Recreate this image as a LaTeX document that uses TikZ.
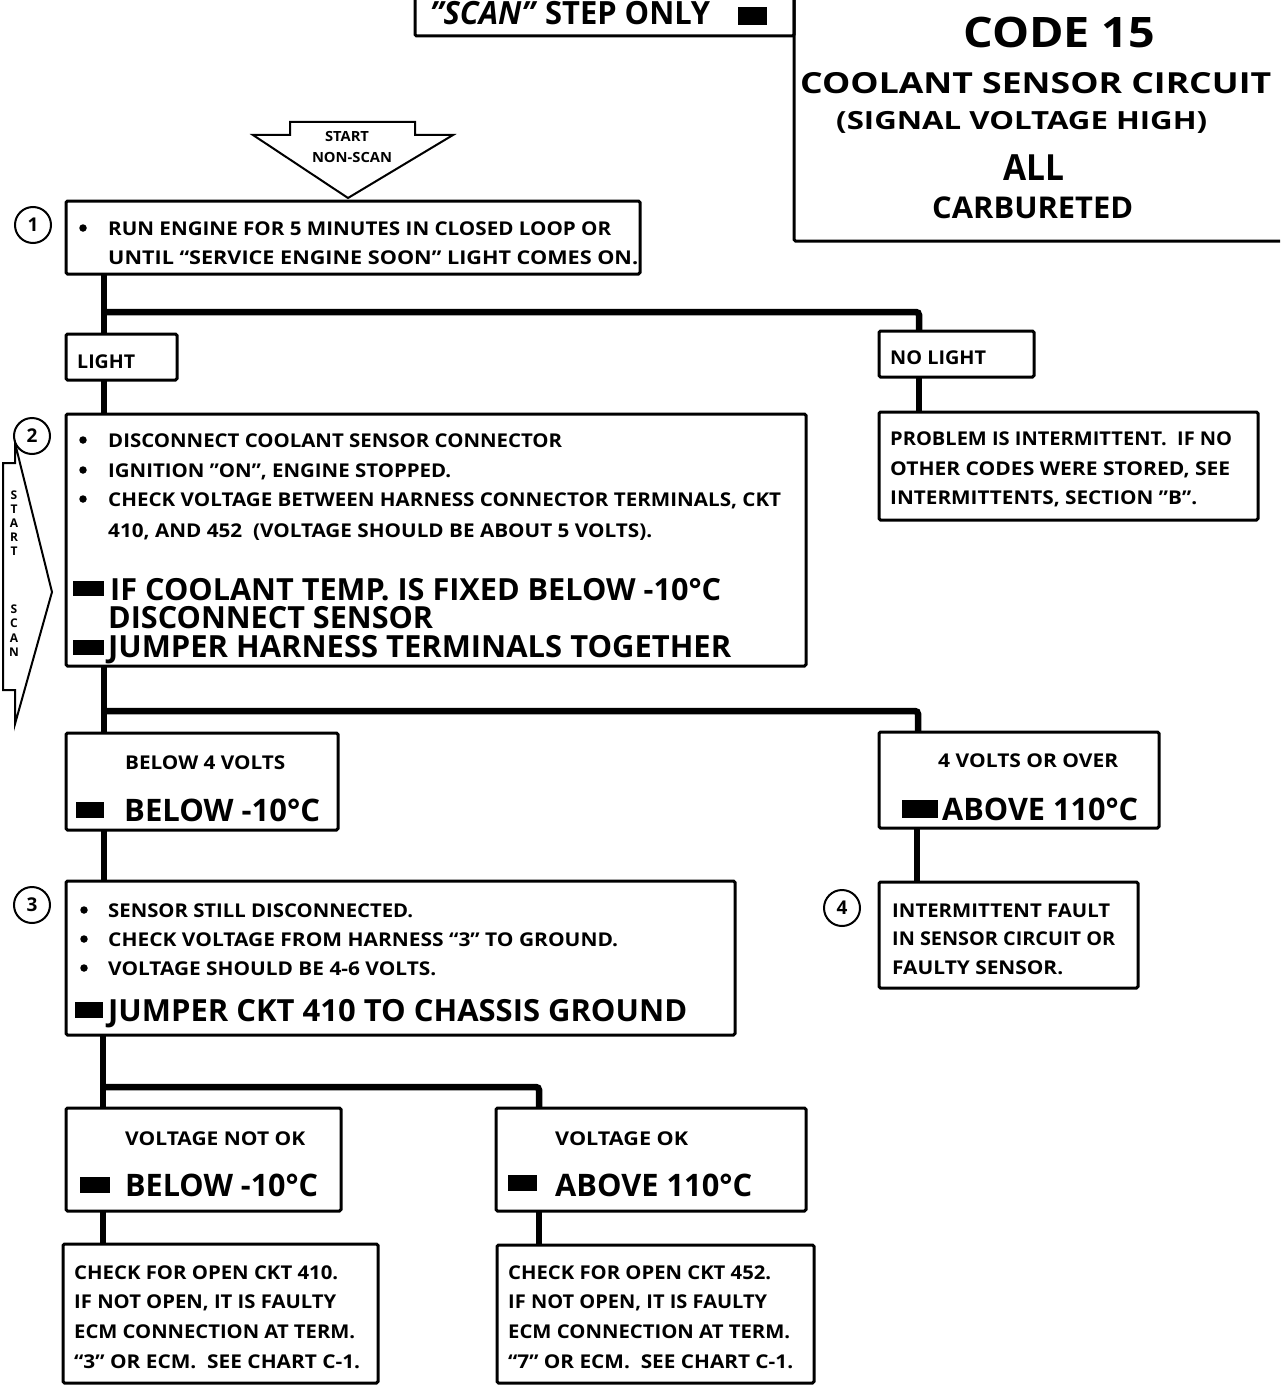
\documentclass[tikz,border=0pt]{standalone}
\usepackage{graphicx}
\usepackage{fontspec}
\setmainfont{Open Sans}
\newsavebox\fitbox
\newlength\fitlen
\newcommand\fitw[2]{\sbox\fitbox{#2}\setlength\fitlen{\wd\fitbox}\pgfmathsetmacro\fitr{#1/\fitlen}\ht\fitbox=\fontcharht\font`X\dp\fitbox=0pt\scalebox{\fitr}[1]{\usebox\fitbox}}
\newcommand\fs[1]{\fontsize{#1}{#1}\selectfont\bfseries}
\tikzset{
  bx/.style={draw, line width=3pt, rounded corners=1.5pt, inner sep=0, outer sep=0, anchor=north west},
  conn/.style={line width=6.5pt, rounded corners=3pt},
  sm/.style={anchor=base west, inner sep=0, font=\fs{19}},
  smc/.style={anchor=base, inner sep=0, font=\fs{14}},
  big/.style={anchor=base west, inner sep=0, font=\fs{30.5}},
  mid/.style={anchor=base west, inner sep=0, font=\fs{31}},
  hd/.style={anchor=base west, inner sep=0},
  vl/.style={inner sep=0, font=\fs{12}},
  blk/.style={fill=black, inner sep=0, outer sep=0, rectangle},
  bul/.style={circle, fill=black, minimum size=7.5pt, inner sep=0},
  num/.style={circle, draw, line width=2pt, minimum size=36pt, inner sep=0, font=\fs{19}},
  arr/.style={draw, line width=2pt, line join=miter}
}
\newcommand\bxat[5]{\node[bx, minimum width=#4pt, minimum height=#5pt] (#1) at (#2,#3) {};}
\newcommand\blkat[5]{\node[blk, minimum width=#4pt, minimum height=#5pt] (#1) at (#2,#3) {};}
\begin{document}
\begin{tikzpicture}[x=1pt,y=-1pt]
\useasboundingbox (0,0) rectangle (1280,1386);
\clip (0,0) rectangle (1280,1386);
% header boxes
\bxat{scanbox}{415}{-30}{379}{66}
\bxat{codebox}{794}{-30}{520}{271}
\node[hd, font=\fs{32}] (scant) at (430,25) {\fitw{280}{\textit{”SCAN”} STEP ONLY}};
\blkat{kscan}{752}{16}{29}{18}
\node[hd, font=\fs{42}] (code) at (963,48) {\fitw{192}{CODE 15}};
\node[hd, font=\fs{29}] (cool) at (800,94) {\fitw{471}{COOLANT SENSOR CIRCUIT}};
\node[hd, font=\fs{25}] (sig) at (836,129) {\fitw{371}{(SIGNAL VOLTAGE HIGH)}};
\node[hd, font=\fs{36}] (all) at (1003,180) {\fitw{61}{ALL}};
\node[hd, font=\fs{30}] (carb) at (932,218) {\fitw{201}{CARBURETED}};
% start non-scan arrow
\draw[arr] (290,122) -- (415,122) -- (415,135) -- (453,135) -- (348,198) -- (253,135) -- (290,135) -- cycle;
\node[smc] (st1) at (347,142) {\fitw{44}{START}};
\node[smc] (st2) at (352,162) {\fitw{80}{NON-SCAN}};
% start scan arrow
\draw[arr] (15,443) -- (15,463) -- (3,463) -- (3,690) -- (15,690) -- (15,724) -- (52,592) -- cycle;
\node[vl] (ss1) at (14,495) {S};
\node[vl] (ss2) at (14,509) {T};
\node[vl] (ss3) at (14,523) {A};
\node[vl] (ss4) at (14,537) {R};
\node[vl] (ss5) at (14,551) {T};
\node[vl] (ss6) at (14,609) {S};
\node[vl] (ss7) at (14,623) {C};
\node[vl] (ss8) at (14,638) {A};
\node[vl] (ss9) at (14,652) {N};
% boxes
\bxat{b1}{66}{201}{574}{73}
\bxat{light}{66}{334}{111}{46}
\bxat{nolight}{879}{331}{155}{46}
\bxat{prob}{879}{412}{379}{108}
\bxat{b2}{66}{414}{740}{252}
\bxat{b4v}{66}{733}{272}{97}
\bxat{o4v}{879}{732}{280}{96}
\bxat{b3}{66}{881}{669}{154}
\bxat{b4}{879}{882}{259}{106}
\bxat{vnok}{66}{1108}{275}{103}
\bxat{vok}{496}{1108}{310}{103}
\bxat{c410}{63}{1244}{315}{139}
\bxat{c452}{497}{1245}{317}{138}
% junctions
\coordinate (jA) at (104,312);
\coordinate (jB) at (104,711);
\coordinate (jC) at (103,1087);
% connectors
\draw[conn] (b1.south -| jA) -- (light.north -| jA);
\draw[conn] (jA) -| ([xshift=40pt]nolight.north west);
\draw[conn] ([xshift=40pt]nolight.south west) -- ([xshift=40pt]prob.north west);
\draw[conn] (light.south -| jA) -- (b2.north -| jA);
\draw[conn] (b2.south -| jB) -- (b4v.north -| jB);
\draw[conn] (jB) -| ([xshift=39pt]o4v.north west);
\draw[conn] ([xshift=38pt]o4v.south west) -- ([xshift=38pt]b4.north west);
\draw[conn] (b4v.south -| jB) -- (b3.north -| jB);
\draw[conn] (b3.south -| jC) -- (vnok.north -| jC);
\draw[conn] (jC) -| ([xshift=43pt]vok.north west);
\draw[conn] (vnok.south -| jC) -- (c410.north -| jC);
\draw[conn] ([xshift=43pt]vok.south west) -- ([xshift=42pt]c452.north west);
% numbers
\node[num] (n1) at (33,225) {1};
\node[num] (n2) at (32,436) {2};
\node[num] (n3) at (32,905) {3};
\node[num] (n4) at (842,908) {4};
% box 1
\node[bul] (u11) at (83,228) {};
\node[sm] (t11) at (108,235) {\fitw{503}{RUN ENGINE FOR 5 MINUTES IN CLOSED LOOP OR}};
\node[sm] (t12) at (108,264) {\fitw{530}{UNTIL “SERVICE ENGINE SOON” LIGHT COMES ON.}};
% light / no light
\node[sm] (tl) at (77,368) {\fitw{58}{LIGHT}};
\node[sm] (tnl) at (890,364) {\fitw{96}{NO LIGHT}};
% problem
\node[sm] (tp1) at (890,445) {\fitw{342}{PROBLEM IS INTERMITTENT.\ \ IF NO}};
\node[sm] (tp2) at (890,475) {\fitw{340}{OTHER CODES WERE STORED, SEE}};
\node[sm] (tp3) at (890,504) {\fitw{307}{INTERMITTENTS, SECTION ”B”.}};
% box 2
\node[bul] (u21) at (83,440) {};
\node[bul] (u22) at (83,470) {};
\node[bul] (u23) at (83,499) {};
\node[sm] (t21) at (108,447) {\fitw{454}{DISCONNECT COOLANT SENSOR CONNECTOR}};
\node[sm] (t22) at (108,477) {\fitw{343}{IGNITION ”ON”, ENGINE STOPPED.}};
\node[sm] (t23) at (108,506) {\fitw{673}{CHECK VOLTAGE BETWEEN HARNESS CONNECTOR TERMINALS, CKT}};
\node[sm] (t24) at (108,537) {\fitw{544}{410, AND 452\ \ (VOLTAGE SHOULD BE ABOUT 5 VOLTS).}};
\blkat{k21}{88}{588}{31}{15}
\node[big] (t25) at (110,600) {\fitw{611}{IF COOLANT TEMP. IS FIXED BELOW -10°C}};
\node[big] (t26) at (108,628) {\fitw{325}{DISCONNECT SENSOR}};
\blkat{k22}{88}{647}{31}{15}
\node[big] (t27) at (108,657) {\fitw{623}{JUMPER HARNESS TERMINALS TOGETHER}};
% below 4 volts
\node[sm] (t31) at (125,769) {\fitw{160}{BELOW 4 VOLTS}};
\blkat{k31}{90}{810}{28}{16}
\node[mid] (t32) at (124,821) {\fitw{196}{BELOW -10°C}};
% 4 volts or over
\node[sm] (t41) at (938,767) {\fitw{180}{4 VOLTS OR OVER}};
\blkat{k41}{920}{809}{36}{18}
\node[mid] (t42) at (942,820) {\fitw{196}{ABOVE 110°C}};
% box 3
\node[bul] (u31) at (84,910) {};
\node[bul] (u32) at (84,939) {};
\node[bul] (u33) at (84,968) {};
\node[sm] (t51) at (108,917) {\fitw{305}{SENSOR STILL DISCONNECTED.}};
\node[sm] (t52) at (108,946) {\fitw{510}{CHECK VOLTAGE FROM HARNESS “3” TO GROUND.}};
\node[sm] (t53) at (108,975) {\fitw{328}{VOLTAGE SHOULD BE 4-6 VOLTS.}};
\blkat{k51}{89}{1010}{28}{16}
\node[big] (t54) at (108,1021) {\fitw{579}{JUMPER CKT 410 TO CHASSIS GROUND}};
% box 4
\node[sm] (t61) at (892,917) {\fitw{218}{INTERMITTENT FAULT}};
\node[sm] (t62) at (892,945) {\fitw{223}{IN SENSOR CIRCUIT OR}};
\node[sm] (t63) at (892,974) {\fitw{171}{FAULTY SENSOR.}};
% voltage not ok
\node[sm] (t71) at (125,1145) {\fitw{180}{VOLTAGE NOT OK}};
\blkat{k71}{95}{1185}{30}{16}
\node[mid] (t72) at (125,1196) {\fitw{193}{BELOW -10°C}};
% voltage ok
\node[sm] (t81) at (555,1145) {\fitw{133}{VOLTAGE OK}};
\blkat{k81}{522}{1183}{29}{16}
\node[mid] (t82) at (555,1196) {\fitw{197}{ABOVE 110°C}};
% c410
\node[sm] (t91) at (74,1279) {\fitw{264}{CHECK FOR OPEN CKT 410.}};
\node[sm] (t92) at (74,1308) {\fitw{262}{IF NOT OPEN, IT IS FAULTY}};
\node[sm] (t93) at (74,1338) {\fitw{281}{ECM CONNECTION AT TERM.}};
\node[sm] (t94) at (74,1368) {\fitw{286}{“3” OR ECM.\ \ SEE CHART C-1.}};
% c452
\node[sm] (ta1) at (508,1279) {\fitw{263}{CHECK FOR OPEN CKT 452.}};
\node[sm] (ta2) at (508,1308) {\fitw{259}{IF NOT OPEN, IT IS FAULTY}};
\node[sm] (ta3) at (508,1338) {\fitw{282}{ECM CONNECTION AT TERM.}};
\node[sm] (ta4) at (508,1368) {\fitw{285}{“7” OR ECM.\ \ SEE CHART C-1.}};
\end{tikzpicture}
\end{document}
